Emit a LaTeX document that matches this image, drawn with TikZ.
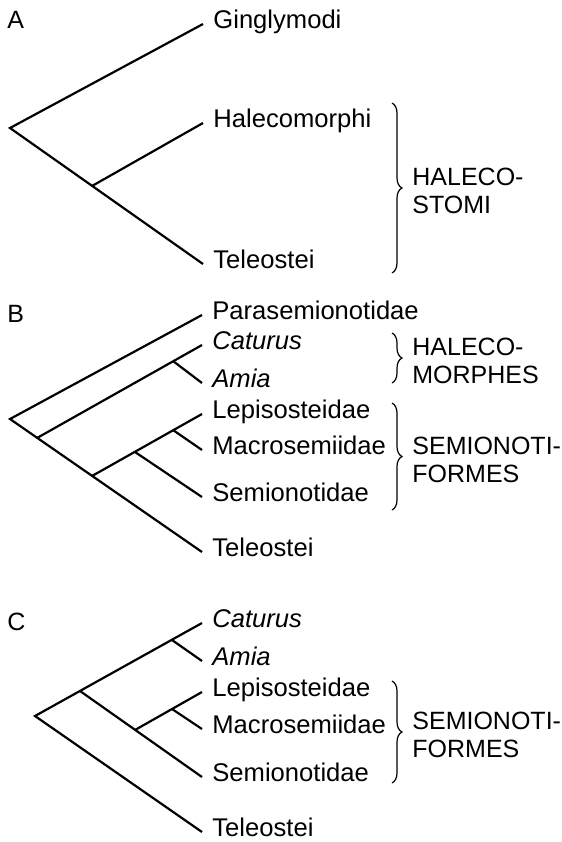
\documentclass[tikz,border=0pt]{standalone}
\usepackage{fontspec}
\setmainfont{Liberation Sans}
\usetikzlibrary{decorations.pathreplacing, calc}

\begin{document}
\begin{tikzpicture}[
    x=0.5pt, y=-0.5pt,
    branch/.style={line width=1.1pt, line join=miter},
    taxon/.style={anchor=base west, inner sep=0pt, xshift=5pt, yshift=-2pt,
                  font=\fontsize{12.8}{14}\selectfont},
    genus/.style={taxon, font=\fontsize{12.8}{14}\selectfont\itshape},
    grpbrace/.style={decorate, decoration={brace, amplitude=5pt}, line width=0.6pt},
    grplabel/.style={anchor=west, inner sep=0pt, xshift=10pt, yshift=-1.5pt, align=left,
                     font=\fontsize{12.5}{14}\selectfont},
    panel/.style={anchor=base west, inner sep=0pt, font=\fontsize{12.5}{14}\selectfont}
]
\useasboundingbox (0,0) rectangle (562,842);

% A
\node[panel] (pA) at (7,28) {A};
\coordinate (A0) at (10,128);
\coordinate (A1) at (92,186);
\coordinate (Agin) at (203,24);
\coordinate (Ahal) at (203,123);
\coordinate (Atel) at (203,264);
\draw[branch] (Agin) -- (A0) -- (Atel);
\draw[branch] (A1) -- (Ahal);
\node[taxon] (Ginglymodi)   at (Agin) {Ginglymodi};
\node[taxon] (Halecomorphi) at (Ahal) {Halecomorphi};
\node[taxon] (TeleosteiA)   at (Atel) {Teleostei};
\coordinate (AbT) at (392,103);
\coordinate (AbB) at (392,273);
\draw[grpbrace] (AbT) -- (AbB);
\node[grplabel] (halecostomi) at ($(AbT)!0.5!(AbB)$) {HALECO-\\STOMI};

% B
\node[panel] (pB) at (7,322) {B};
\coordinate (B0) at (10,419);
\coordinate (B1) at (37,438);
\coordinate (B2) at (92,476);
\coordinate (Bca) at (173,361);
\coordinate (Bsem) at (135,452);
\coordinate (Blm) at (173,430);
\coordinate (Bpar) at (202,315);
\coordinate (Bcat) at (202,345);
\coordinate (Bami) at (202,383);
\coordinate (Blep) at (202,414);
\coordinate (Bmac) at (202,450);
\coordinate (Bsmn) at (202,497);
\coordinate (Btel) at (202,552);
\draw[branch] (Bpar) -- (B0) -- (Btel);
\draw[branch] (B1) -- (Bcat);
\draw[branch] (Bca) -- (Bami);
\draw[branch] (B2) -- (Blep);
\draw[branch] (Bsem) -- (Bsmn);
\draw[branch] (Blm) -- (Bmac);
\node[taxon] (Parasemionotidae) at (Bpar) {Parasemionotidae};
\node[genus] (CaturusB)         at (Bcat) {Caturus};
\node[genus] (AmiaB)            at (Bami) {Amia};
\node[taxon] (LepisosteidaeB)   at (Blep) {Lepisosteidae};
\node[taxon] (MacrosemiidaeB)   at (Bmac) {Macrosemiidae};
\node[taxon] (SemionotidaeB)    at (Bsmn) {Semionotidae};
\node[taxon] (TeleosteiB)       at (Btel) {Teleostei};
\coordinate (BhT) at (392,333);
\coordinate (BhB) at (392,383);
\draw[grpbrace] (BhT) -- (BhB);
\node[grplabel] (halecomorphes) at ($(BhT)!0.5!(BhB)$) {HALECO-\\MORPHES};
\coordinate (BsT) at (392,403);
\coordinate (BsB) at (392,510);
\draw[grpbrace] (BsT) -- (BsB);
\node[grplabel] (semionotiB) at ($(BsT)!0.5!(BsB)$) {SEMIONOTI-\\FORMES};

% C
\node[panel] (pC) at (7,630) {C};
\coordinate (C0) at (35,716);
\coordinate (C1) at (80,691);
\coordinate (Cca) at (172,640);
\coordinate (C2) at (135,730);
\coordinate (Clm) at (172,709);
\coordinate (Ccat) at (202,623);
\coordinate (Cami) at (202,661);
\coordinate (Clep) at (202,692);
\coordinate (Cmac) at (202,729);
\coordinate (Csmn) at (202,777);
\coordinate (Ctel) at (202,832);
\draw[branch] (Ccat) -- (C0) -- (Ctel);
\draw[branch] (Cca) -- (Cami);
\draw[branch] (C1) -- (Csmn);
\draw[branch] (C2) -- (Clep);
\draw[branch] (Clm) -- (Cmac);
\node[genus] (CaturusC)       at (Ccat) {Caturus};
\node[genus] (AmiaC)          at (Cami) {Amia};
\node[taxon] (LepisosteidaeC) at (Clep) {Lepisosteidae};
\node[taxon] (MacrosemiidaeC) at (Cmac) {Macrosemiidae};
\node[taxon] (SemionotidaeC)  at (Csmn) {Semionotidae};
\node[taxon] (TeleosteiC)     at (Ctel) {Teleostei};
\coordinate (CsT) at (392,681);
\coordinate (CsB) at (392,783);
\draw[grpbrace] (CsT) -- (CsB);
\node[grplabel] (semionotiC) at ($(CsT)!0.5!(CsB)$) {SEMIONOTI-\\FORMES};
\end{tikzpicture}
\end{document}
